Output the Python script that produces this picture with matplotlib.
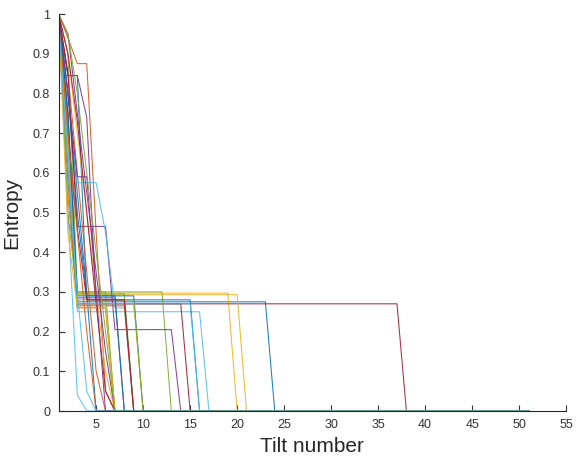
import matplotlib
matplotlib.use("Agg")
import matplotlib.pyplot as plt
from cycler import cycler

# entropy per tilt; every tilt after the listed ones is 0
n_tilts = 51
series = [
    # blue, orange, yellow, purple, green, light blue, dark red
    [1, 0.72] + [0.275] * 21,
    [1, 0.94, 0.875, 0.875, 0.45, 0.05],
    [1, 0.62] + [0.297] * 17,
    [1, 0.845, 0.845, 0.74, 0.28, 0.28, 0.28, 0.28],
    [1, 0.9] + [0.3] * 10,
    [1, 0.6] + [0.25] * 14,
    [1, 0.55] + [0.27] * 35,

    [1, 0.845, 0.845] + [0.28] * 12,
    [1, 0.7, 0.26, 0.26, 0.26, 0.26],
    [1, 0.55] + [0.293] * 18,
    [1, 0.7, 0.465, 0.465, 0.465, 0.465] + [0.205] * 7,
    [1, 0.75, 0.3, 0.3, 0.3, 0.3],
    [1, 0.5, 0.04],
    [1, 0.75] + [0.27] * 12,

    [1, 0.8, 0.55, 0.3],
    [1, 0.85, 0.6, 0.35, 0.1],
    [1, 0.9, 0.7, 0.5, 0.3, 0.1],
    [1, 0.6] + [0.285] * 5,
    [1, 0.65] + [0.295] * 6,
    [1, 0.8, 0.575, 0.575, 0.575, 0.45, 0.26, 0.26],
    [1, 0.9, 0.73, 0.5, 0.27, 0.05],

    [1, 0.8, 0.5] + [0.29] * 6,
    [1, 0.6] + [0.265] * 6,
    [1, 0.7] + [0.27] * 7,
    [1, 0.95, 0.75, 0.55, 0.35, 0.15],
    [1, 0.5] + [0.28] * 7,
    [1, 0.65] + [0.27] * 13,
    [1, 0.85, 0.46, 0.28, 0.28, 0.28, 0.28, 0.28],

    [1, 0.75, 0.29, 0.29, 0.29, 0.29, 0.29],
    [1, 0.7, 0.45, 0.2],
    [1, 0.45, 0.26, 0.26, 0.26, 0.26],
    [1, 0.8, 0.59, 0.59, 0.3],
    [1, 0.95, 0.8, 0.6, 0.4, 0.2],
    [1, 0.6, 0.3, 0.05],
]
x_ticks = [5, 10, 15, 20, 25, 30, 35, 40, 45, 50, 55]
y_ticks = [0, 0.1, 0.2, 0.3, 0.4, 0.5, 0.6, 0.7, 0.8, 0.9, 1]
y_tick_labels = ["0", "0.1", "0.2", "0.3", "0.4", "0.5", "0.6", "0.7", "0.8", "0.9", "1"]

matlab_colors = ["#0072BD", "#D95319", "#EDB120", "#7E2F8E", "#77AC30", "#4DBEEE", "#A2142F"]
plt.rcParams["font.family"] = ["Liberation Sans", "DejaVu Sans"]

fig = plt.figure(figsize=(5.76, 4.58), dpi=100)
ax = fig.add_axes([0.1016, 0.1026, 0.8814, 0.8668])
ax.set_prop_cycle(cycler(color=matlab_colors))

tilts = list(range(1, n_tilts + 1))
for s in series:
    vals = s + [0] * (n_tilts - len(s))
    ax.plot(tilts, vals, lw=0.75, alpha=0.9)

ax.set_xlim(1, 55)
ax.set_ylim(0, 1)
ax.set_xticks(x_ticks)
ax.set_yticks(y_ticks)
ax.set_yticklabels(y_tick_labels)
ax.tick_params(direction="in", length=4, width=0.8, labelsize=9, colors="#333333", pad=6)
for side in ["top", "right"]:
    ax.spines[side].set_visible(False)
for side in ["left", "bottom"]:
    ax.spines[side].set_color("#262626")
    ax.spines[side].set_linewidth(0.8)
ax.set_xlabel("Tilt number", fontsize=15, color="#262626", labelpad=4)
ax.set_ylabel("Entropy", fontsize=15, color="#262626", labelpad=8)

fig.savefig("out.png", dpi=100)
